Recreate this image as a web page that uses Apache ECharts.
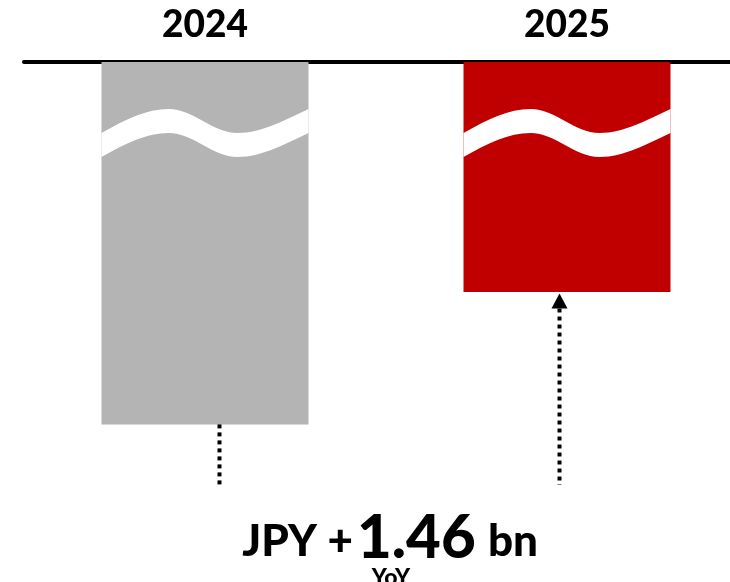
<!DOCTYPE html>
<html>
<head>
<meta charset="utf-8">
<script src="https://cdn.jsdelivr.net/npm/echarts@6/dist/echarts.min.js"></script>
<style>
html,body{margin:0;padding:0;background:#fff;}
#chart{width:730px;height:582px;}
</style>
</head>
<body>
<div id="chart"></div>
<script>
// ---- data ----
const categories = ['2024', '2025'];
const values = [4.00, 2.54];          // JPY bn (axis is broken; schematic magnitudes)
const deltaPrefix = 'JPY +';
const deltaValue = '1.46';
const deltaUnit = 'bn';
const deltaNote = 'YoY';

// ---- style ----
const barColors = ['#b4b4b4', '#c00000'];
const barWidth = 207;
const connectorOffsets = [14.5, -7.5];
const connectorArrow = [false, true];
const connectorBottom = 485;
const FONT = 'Lato';

const chart = echarts.init(document.getElementById('chart'), null, {renderer: 'canvas'});

function breakPath(xL, y0) {
  const up = (dx, dy) => (xL + dx) + ' ' + (y0 + dy);
  const t = 24;
  return 'M ' + up(0, 24) +
    ' C ' + up(25, 10) + ' ' + up(45, 0) + ' ' + up(67, 0) +
    ' C ' + up(92, 0) + ' ' + up(111, 24) + ' ' + up(136, 24) +
    ' C ' + up(161, 24) + ' ' + up(185, 10) + ' ' + up(207, 0) +
    ' L ' + up(207, t) +
    ' C ' + up(185, 10 + t) + ' ' + up(161, 24 + t) + ' ' + up(136, 24 + t) +
    ' C ' + up(111, 24 + t) + ' ' + up(92, t) + ' ' + up(67, t) +
    ' C ' + up(45, t) + ' ' + up(25, 10 + t) + ' ' + up(0, 24 + t) + ' Z';
}

const option = {
  animation: false,
  grid: {left: 24, top: 62, width: 724, height: 453, outerBoundsMode: 'none', containLabel: false},
  xAxis: {
    type: 'category',
    data: categories,
    position: 'top',
    axisLine: {lineStyle: {color: '#000', width: 4}},
    axisTick: {show: false},
    axisLabel: {fontSize: 37, fontWeight: 900, color: '#000', margin: 18, fontFamily: FONT}
  },
  yAxis: {type: 'value', min: 0, max: 5, inverse: true, show: false, splitLine: {show: false}},
  series: [
    {
      type: 'bar',
      barWidth: barWidth,
      data: values.map((v, i) => ({value: v, itemStyle: {color: barColors[i]}})),
      z: 1
    },
    {
      type: 'custom',
      z: 3,
      data: values.map((v, i) => [i, v]),
      renderItem: function (params, api) {
        const c = api.coord([api.value(0), 0]);
        const xL = c[0] - barWidth / 2;
        return {
          type: 'path',
          shape: {pathData: breakPath(xL, c[1] + 47)},
          style: {fill: '#fff', stroke: null}
        };
      }
    },
    {
      type: 'custom',
      z: 3,
      data: values.map((v, i) => [i, v]),
      renderItem: function (params, api) {
        const i = params.dataIndex;
        const c = api.coord([api.value(0), api.value(1)]);
        const x = c[0] + connectorOffsets[i];
        const children = [];
        let yStart = c[1];
        if (connectorArrow[i]) {
          const tip = c[1] + 1.5;
          children.push({
            type: 'polygon',
            shape: {points: [[x, tip], [x - 8, tip + 15], [x + 8, tip + 15]]},
            style: {fill: '#000'}
          });
          yStart = tip + 15;
        }
        children.push({
          type: 'line',
          shape: {x1: x, y1: yStart, x2: x, y2: connectorBottom},
          style: {stroke: '#000', lineWidth: 4, lineDash: [4, 4]}
        });
        return {type: 'group', children: children};
      }
    }
  ],
  graphic: [
    {type: 'text', x: 353, y: 564, style: {text: deltaPrefix, font: '900 44px ' + FONT, fill: '#000', align: 'right', verticalAlign: 'bottom'}},
    {type: 'text', x: 357, y: 569, style: {text: deltaValue, font: '900 60px ' + FONT, fill: '#000', align: 'left', verticalAlign: 'bottom'}},
    {type: 'text', x: 488, y: 564, style: {text: deltaUnit, font: '900 44px ' + FONT, fill: '#000', align: 'left', verticalAlign: 'bottom'}},
    {type: 'text', x: 391, y: 566, style: {text: deltaNote, font: '900 23px ' + FONT, fill: '#000', align: 'center', verticalAlign: 'top'}}
  ]
};
chart.setOption(option);
</script>
</body>
</html>
